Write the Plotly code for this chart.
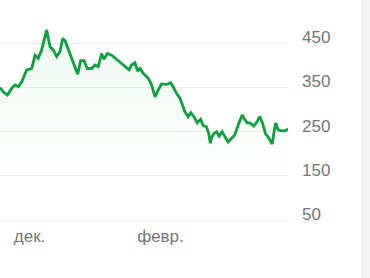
import pandas as pd
import plotly.graph_objects as go

# day offsets from start date and price values
start_date = "2023-11-17"
day_offsets = [0, 1.6, 3.5, 5.5, 7.1, 8.7, 10.3, 12.6, 15, 16.6, 18.1, 19.7, 22.1, 23.7, 25.2,
               26.8, 28.4, 29.7, 30.8, 33.1, 34.4, 35.5, 36.8, 38.2, 39.8, 41.3, 43.4, 45,
               46.5, 48.1, 49.2, 50.8, 52.9, 55.2, 57.6, 59.6, 61.1, 62.3, 63.9, 65.2, 66.3,
               67.8, 70.2, 71.8, 73.4, 74.9, 76.5, 78.9, 80.8, 82, 83.6, 85.2, 86.5, 87.6,
               89.1, 90.4, 92, 93.4, 95, 96.2, 97.8, 98.9, 99.6, 100.3, 101.3, 102.6, 103.8,
               105.2, 106.5, 108, 109.7, 111.2, 112.8, 114.7, 115.9, 117, 118.3, 120.2, 121.8,
               123, 124.3, 125.7, 127.4, 128.9, 129.8, 130.6, 131.7, 133.3, 134.9, 136.4]
values = [350, 340, 333, 348, 356, 352, 363, 390, 393, 423, 416, 435, 480, 442, 435,
          420, 431, 461, 456, 427, 412, 401, 380, 411, 411, 393, 393, 401,
          397, 427, 414, 427, 423, 414, 405, 397, 390, 401, 406, 387, 393,
          382, 371, 356, 329, 344, 358, 357, 361, 352, 337, 326, 307, 295,
          284, 293, 283, 270, 278, 264, 261, 245, 224, 238, 246, 250, 240,
          250, 239, 227, 235, 243, 265, 288, 278, 270, 270, 263, 273,
          284, 270, 246, 235, 222, 250, 270, 254, 252, 252, 256]

tick_dates = ["2023-12-01", "2024-02-01"]
tick_labels = ["дек.", "февр."]
y_ticks = [50, 150, 250, 350, 450]

dates = pd.Timestamp(start_date) + pd.to_timedelta(day_offsets, unit="D")

GREEN = "rgb(13,160,62)"

fig = go.Figure()
fig.add_trace(go.Scatter(
    x=dates, y=values, mode="lines",
    line=dict(color=GREEN, width=2.8),
    fill="tozeroy",
    fillgradient=dict(type="vertical",
                      colorscale=[[0, "rgba(13,160,62,0)"], [1, "rgba(13,160,62,0.07)"]],
                      start=150, stop=480),
    hoverinfo="skip",
))

x_end = pd.Timestamp(start_date) + pd.Timedelta(days=day_offsets[-1])
fig.update_layout(
    width=370, height=278,
    margin=dict(l=0, r=82, t=0, b=54),
    paper_bgcolor="white", plot_bgcolor="white",
    showlegend=False,
    font=dict(family="Liberation Sans, Arial, sans-serif", size=17, color="#70757a"),
    xaxis=dict(range=[pd.Timestamp(start_date), x_end],
               tickvals=tick_dates, ticktext=tick_labels,
               showgrid=False, zeroline=False, showline=False,
               ticks="", ticklen=0),
    yaxis=dict(range=[41.2, 548], side="right", automargin=False,
               tickvals=y_ticks, showgrid=True, gridcolor="#ececec", gridwidth=1,
               zeroline=False, showline=False,
               ticks="", ticklabelstandoff=13,
               ticklabelshift=-6),
    shapes=[dict(type="rect", xref="paper", yref="paper", x0=361/288, x1=370/288 + 0.01,
                 y0=-1, y1=2, fillcolor="#f4f4f4", line=dict(width=0), layer="below")],
)

fig.write_html("out.html")
